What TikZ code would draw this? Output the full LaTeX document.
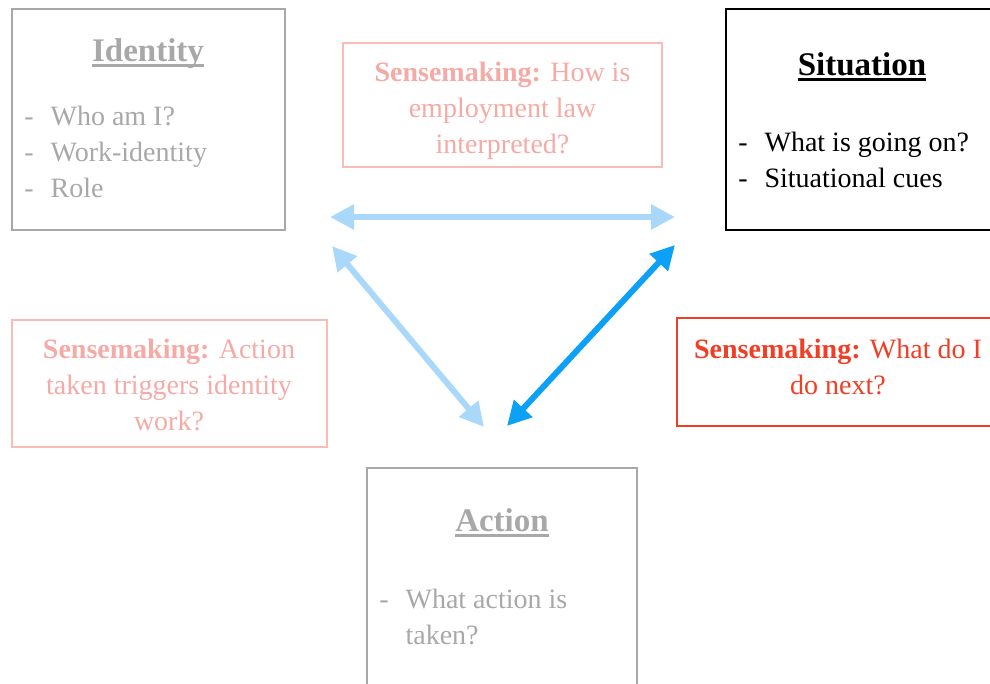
\documentclass[tikz,border=0pt]{standalone}
\usepackage{fontspec}
\setmainfont{Liberation Serif}
\usetikzlibrary{arrows.meta}
\newlength\px
\setlength\px{0.75pt}
\definecolor{softgray}{RGB}{168,168,168}
\definecolor{pinktext}{RGB}{246,170,165}
\definecolor{pinkline}{RGB}{251,188,183}
\definecolor{redline}{RGB}{242,62,36}
\definecolor{paleblue}{RGB}{170,216,250}
\definecolor{brightblue}{RGB}{12,160,246}
\newcommand\headline[1]{\setbox0\hbox{#1}\rlap{\rule[-0.14em]{\wd0}{0.07em}}\box0}
\tikzset{
	box/.style 2 args={draw, line width=1.5\px, inner sep=0pt, minimum width=#1\px, minimum height=#2\px},
	heading/.style={anchor=base, inner sep=0pt, font=\fontsize{24.75}{30}\selectfont\bfseries},
	items/.style={anchor=base west, inner sep=0pt},
	sense/.style={anchor=base, inner sep=0pt},
	link/.style={line width=4.5pt, >={Triangle[length=18pt,width=18pt]}, <->},
}

\begin{document}
\begin{tikzpicture}[x=0.75pt, y=-0.75pt, font=\fontsize{21}{27}\selectfont]
	\useasboundingbox (0,0) rectangle (990,684);
	\clip (0,0) rectangle (990,684);
	% boxes
	\node[box={273}{221}, draw=softgray] (identity) at (148.5,119.5) {};
	\node[box={272}{221}, draw=black] (situation) at (862,119.5) {};
	\node[box={270}{240}, draw=softgray] (action) at (502,588) {};
	\node[box={319}{124}, draw=pinkline] (senseTop) at (502.5,105) {};
	\node[box={315}{127}, draw=pinkline] (senseLeft) at (169.5,383.5) {};
	\node[box={323}{108}, draw=redline] (senseRight) at (838.5,372) {};
	% headings and lists
	\node[heading, text=softgray] (identityT) at (148,62) {\headline{Identity}};
	\node[items, text=softgray] (identityL) at (24,126) {\begin{tabular}[t]{@{}l@{\hspace{17\px}}l@{}}-&Who am I?\\-&Work-identity\\-&Role\end{tabular}};
	\node[heading] (situationT) at (862,76) {\headline{Situation}};
	\node[items] (situationL) at (738,152) {\begin{tabular}[t]{@{}l@{\hspace{17\px}}l@{}}-&What is going on?\\-&Situational cues\end{tabular}};
	\node[heading, text=softgray] (actionT) at (502,532) {\headline{Action}};
	\node[items, text=softgray] (actionL) at (379,609) {\begin{tabular}[t]{@{}l@{\hspace{17\px}}l@{}}-&What action is\\&taken?\end{tabular}};
	% sensemaking texts
	\node[sense, text=pinktext] (senseTopT) at (502.5,82) {\begin{tabular}[t]{@{}c@{}}\textbf{Sensemaking:} How is\\employment law\\interpreted?\end{tabular}};
	\node[sense, text=pinktext] (senseLeftT) at (169,359) {\begin{tabular}[t]{@{}c@{}}\textbf{Sensemaking:} Action\\taken triggers identity\\work?\end{tabular}};
	\node[sense, text=redline] (senseRightT) at (838,359) {\begin{tabular}[t]{@{}c@{}}\textbf{Sensemaking:} What do I\\do next?\end{tabular}};
	% arrow ends
	\coordinate (idE) at (330,217);
	\coordinate (sitW) at (675,217);
	\coordinate (idS) at (332,246);
	\coordinate (actNW) at (484,427);
	\coordinate (sitS) at (675,245);
	\coordinate (actNE) at (507,426);
	\draw[link, paleblue] (idE) -- (sitW);
	\draw[link, paleblue] (idS) -- (actNW);
	\draw[link, brightblue] (sitS) -- (actNE);
\end{tikzpicture}
\end{document}
